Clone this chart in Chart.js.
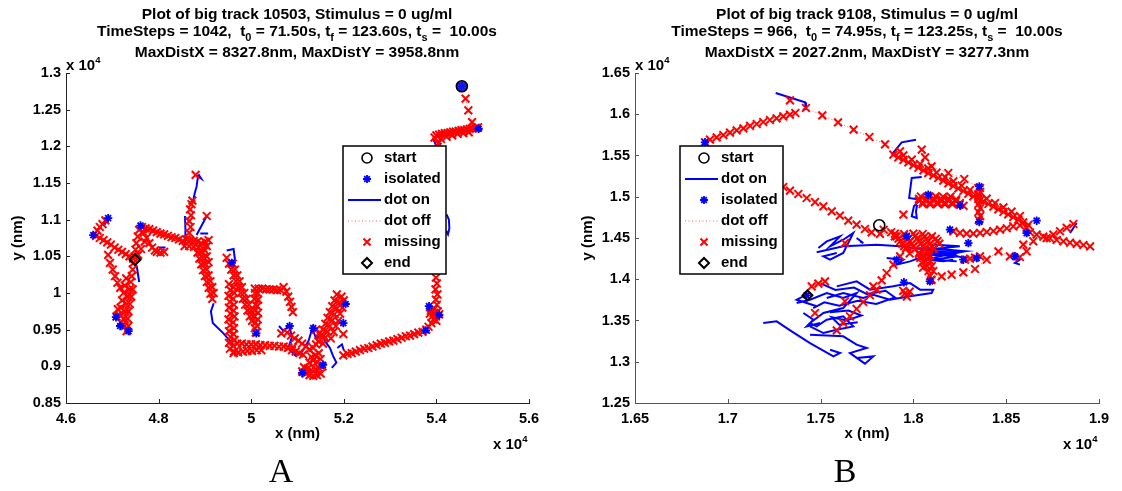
<!DOCTYPE html>
<html>
<head>
<meta charset="utf-8">
<title>Big track plots</title>
<script src="https://cdn.jsdelivr.net/npm/chart.js@4.4.1/dist/chart.umd.min.js"></script>
<style>
  body {
    margin: 0;
    width: 1122px;
    height: 491px;
    position: relative;
    overflow: hidden;
    background: #fff;
    font-family: 'Liberation Sans', Arial, sans-serif;
  }
  .panel {
    position: absolute;
    top: 0;
    width: 561px;
    height: 491px;
  }
  .line {
    position: absolute;
    width: 600px;
    text-align: center;
    font-weight: bold;
    font-size: 15.5px;
    line-height: 18px;
    white-space: pre;
  }
  .line sub {
    font-size: 11px;
    vertical-align: -5px;
    line-height: 0;
  }
  .exp {
    position: absolute;
    font-weight: bold;
    font-size: 15px;
    line-height: 18px;
    white-space: pre;
  }
  .exp sup {
    font-size: 9.5px;
    vertical-align: 7px;
    line-height: 0;
  }
  .tag {
    position: absolute;
    width: 60px;
    text-align: center;
    font-family: 'Liberation Serif', 'DejaVu Serif', serif;
    font-size: 34px;
    line-height: 34px;
  }
</style>
</head>
<body>
<div class="panel" style="left: 0"><canvas id="chartA" width="561" height="491"></canvas></div>
<div class="panel" style="left: 561px"><canvas id="chartB" width="561" height="491"></canvas></div>

<div class="line" style="left: -3px; top: 5px">Plot of big track 10503, Stimulus = 0 ug/ml</div>
<div class="line" style="left: -3px; top: 22px">TimeSteps = 1042,  t<sub>0</sub> = 71.50s, t<sub>f</sub> = 123.60s, t<sub>s</sub> =  10.00s</div>
<div class="line" style="left: -3px; top: 43px">MaxDistX = 8327.8nm, MaxDistY = 3958.8nm</div>
<div class="exp" style="left: 66px; top: 56px">x 10<sup>4</sup></div>
<div class="exp" style="left: 493px; top: 435px">x 10<sup>4</sup></div>
<div class="tag" style="left: 251px; top: 454px">A</div>

<div class="line" style="left: 567px; top: 5px">Plot of big track 9108, Stimulus = 0 ug/ml</div>
<div class="line" style="left: 567px; top: 22px">TimeSteps = 966,  t<sub>0</sub> = 74.95s, t<sub>f</sub> = 123.25s, t<sub>s</sub> =  10.00s</div>
<div class="line" style="left: 567px; top: 43px">MaxDistX = 2027.2nm, MaxDistY = 3277.3nm</div>
<div class="exp" style="left: 635px; top: 56px">x 10<sup>4</sup></div>
<div class="exp" style="left: 1063px; top: 435px">x 10<sup>4</sup></div>
<div class="tag" style="left: 815px; top: 454px">B</div>

<script>
// positions are in units of 10^4 nm, null breaks a track segment
const xTicksA = [4.6, 4.8, 5, 5.2, 5.4, 5.6];
const yTicksA = [0.85, 0.9, 0.95, 1, 1.05, 1.1, 1.15, 1.2, 1.25, 1.3];
const xTicksB = [1.65, 1.7, 1.75, 1.8, 1.85, 1.9];
const yTicksB = [1.25, 1.3, 1.35, 1.4, 1.45, 1.5, 1.55, 1.6, 1.65];

const startA = [[5.455, 1.282]];
const endA = [[4.749, 1.0455]];
const isolatedA = [
  [5.455, 1.282], [5.491, 1.224], [5.384, 0.982], [5.406, 0.970], [5.377, 0.949],
  [5.204, 0.985], [5.199, 0.959], [5.110, 0.891], [5.155, 0.902], [5.134, 0.952],
  [5.083, 0.955], [5.011, 0.945], [4.958, 1.041], [4.691, 1.102], [4.659, 1.079],
  [4.761, 1.092], [4.708, 0.967], [4.735, 0.948], [4.717, 0.955],
];
const dotOnA = [
  [5.392, 1.212], [5.398, 1.203], [5.405, 1.198], [5.410, 1.205], null,
  [5.422, 1.107], [5.427, 1.100], [5.428, 1.088], [5.425, 1.080], [5.421, 1.085], null,
  [5.380, 0.978], [5.392, 0.972], [5.404, 0.968], [5.396, 0.962], null,
  [5.060, 0.955], [5.070, 0.948], [5.082, 0.956], [5.088, 0.940], [5.080, 0.925], [5.095, 0.915],
  [5.110, 0.920], [5.124, 0.935], [5.132, 0.952], [5.140, 0.938], [5.152, 0.944], [5.162, 0.932],
  [5.170, 0.925], [5.177, 0.914], [5.184, 0.905], [5.174, 0.898], null,
  [5.186, 0.925], [5.196, 0.930], [5.200, 0.922], null,
  [4.919, 0.986], [4.913, 0.975], [4.917, 0.959], [4.940, 0.945], [4.961, 0.930], null,
  [4.947, 1.058], [4.962, 1.060], [4.965, 1.045], [4.958, 1.040], null,
  [4.875, 1.127], [4.878, 1.136], [4.882, 1.145], [4.885, 1.159], [4.892, 1.156], [4.886, 1.162], null,
  [4.857, 1.105], [4.858, 1.085], [4.857, 1.064], null,
  [4.882, 1.079], [4.893, 1.092], [4.904, 1.105], null,
  [4.907, 1.081], [4.890, 1.081], null,
  [4.683, 1.093], [4.690, 1.100], null,
  [4.753, 1.036], [4.758, 1.015], null,
  [4.800, 1.062], [4.815, 1.062], null,
  [4.730, 0.962], [4.722, 0.955], [4.733, 0.950],
];
const missingA = [
  [5.463, 1.265], [5.469, 1.249], [5.477, 1.233], [5.486, 1.225],
  [5.490, 1.226], [5.484, 1.225], [5.478, 1.224], [5.472, 1.224], [5.466, 1.223], [5.460, 1.222],
  [5.454, 1.222], [5.448, 1.221], [5.442, 1.220], [5.436, 1.220], [5.430, 1.219], [5.424, 1.218],
  [5.418, 1.218], [5.412, 1.217], [5.406, 1.216], [5.400, 1.215], [5.396, 1.212], null,
  [5.470, 1.219], [5.458, 1.218], [5.446, 1.217], [5.434, 1.215], [5.422, 1.213], [5.410, 1.210],
  [5.404, 1.204], null,
  [5.399, 1.021], [5.401, 1.013], [5.398, 1.005], [5.402, 0.998], [5.399, 0.991], [5.401, 0.984],
  [5.395, 0.978], [5.388, 0.976], [5.396, 0.973], [5.403, 0.975], [5.392, 0.969], [5.399, 0.968],
  [5.406, 0.971], [5.386, 0.972], [5.394, 0.964], [5.400, 0.962], [5.389, 0.959], [5.383, 0.954],
  [5.378, 0.950], [5.370, 0.947], [5.361, 0.946], [5.352, 0.944], [5.343, 0.942], [5.334, 0.941],
  [5.325, 0.939], [5.316, 0.937], [5.307, 0.935], [5.298, 0.934], [5.289, 0.932], [5.280, 0.931],
  [5.271, 0.929], [5.262, 0.927], [5.253, 0.925], [5.244, 0.924], [5.235, 0.922], [5.226, 0.920],
  [5.217, 0.918], [5.208, 0.917], [5.199, 0.915], null,
  [5.185, 0.998], [5.180, 0.990], [5.175, 0.982], [5.170, 0.974], [5.165, 0.966], [5.160, 0.958],
  [5.155, 0.950], [5.150, 0.942], [5.145, 0.934], null,
  [5.195, 0.995], [5.190, 0.987], [5.185, 0.979], [5.180, 0.971], [5.175, 0.963], [5.170, 0.955],
  [5.165, 0.947], [5.160, 0.939], [5.155, 0.931], null,
  [5.200, 0.990], [5.197, 0.980], [5.192, 0.972], [5.188, 0.962], [5.183, 0.955], [5.178, 0.947],
  [5.172, 0.938], [5.199, 0.944], null,
  [5.110, 0.893], [5.118, 0.890], [5.126, 0.888], [5.134, 0.887], [5.142, 0.888], [5.150, 0.890],
  [5.154, 0.900], [5.146, 0.898], [5.138, 0.896], [5.130, 0.895], [5.122, 0.897], [5.114, 0.899],
  [5.126, 0.905], [5.134, 0.908], [5.142, 0.906], [5.150, 0.910], [5.146, 0.918], [5.138, 0.915],
  [5.130, 0.913], null,
  [5.065, 0.945], [5.078, 0.946], [5.086, 0.942], [5.094, 0.938], [5.102, 0.935], [5.110, 0.931],
  [5.118, 0.927], [5.126, 0.923], [5.134, 0.925], [5.140, 0.930], null,
  [5.080, 0.925], [5.088, 0.922], [5.096, 0.920], [5.104, 0.918], [5.112, 0.916], null,
  [5.140, 0.950], [5.148, 0.946], [5.156, 0.942], null,
  [5.090, 0.926], [5.080, 0.926], [5.070, 0.927], [5.060, 0.927], [5.050, 0.928], [5.040, 0.928],
  [5.030, 0.929], [5.020, 0.929], [5.010, 0.930], [5.000, 0.930], [4.990, 0.930], [4.980, 0.931],
  [4.970, 0.931], null,
  [5.022, 0.922], [5.012, 0.922], [5.002, 0.921], [4.992, 0.921], [4.982, 0.920], [4.972, 0.919],
  [4.962, 0.918], null,
  [4.952, 1.012], [4.955, 1.004], [4.951, 0.996], [4.954, 0.988], [4.952, 0.980], [4.955, 0.972],
  [4.951, 0.964], [4.954, 0.956], [4.952, 0.948], [4.955, 0.940], [4.952, 0.932], [4.954, 0.924], null,
  [4.962, 1.008], [4.964, 1.000], [4.961, 0.992], [4.963, 0.984], [4.962, 0.976], [4.964, 0.968],
  [4.961, 0.960], [4.963, 0.952], [4.962, 0.944], [4.964, 0.936], [4.961, 0.928], [4.963, 0.920], null,
  [5.008, 1.006], [5.016, 1.006], [5.024, 1.006], [5.032, 1.005], [5.040, 1.005], [5.048, 1.005],
  [5.056, 1.004], [5.064, 1.004], [5.070, 1.008], [5.076, 1.002], [5.080, 0.995], [5.084, 0.988],
  [5.087, 0.981], [5.090, 0.974], null,
  [5.008, 1.000], [5.007, 0.992], [5.009, 0.984], [5.008, 0.976], [5.007, 0.968], [5.009, 0.960],
  [5.008, 0.952], [5.010, 0.946], null,
  [5.014, 1.000], [5.015, 0.991], [5.013, 0.982], [5.015, 0.973], [5.014, 0.964], [5.013, 0.955], null,
  [4.947, 1.048], [4.952, 1.040], [4.957, 1.032], [4.962, 1.024], [4.967, 1.016], [4.972, 1.008],
  [4.977, 1.000], [4.982, 0.992], [4.987, 0.984], [4.992, 0.976], [4.997, 0.968], [5.002, 0.962], null,
  [4.960, 1.040], [4.965, 1.032], [4.970, 1.024], [4.975, 1.016], [4.980, 1.008], [4.985, 1.000],
  [4.990, 0.992], [4.995, 0.984], [5.000, 0.976], [5.005, 0.968], null,
  [4.852, 1.071], [4.860, 1.073], [4.868, 1.072], [4.876, 1.071], [4.884, 1.070], [4.892, 1.068],
  [4.900, 1.070], [4.908, 1.072], null,
  [4.856, 1.064], [4.866, 1.064], [4.876, 1.063], [4.886, 1.062], [4.896, 1.061], [4.904, 1.064], null,
  [4.884, 1.055], [4.888, 1.047], [4.892, 1.039], [4.896, 1.031], [4.900, 1.023], [4.904, 1.015],
  [4.908, 1.007], [4.912, 0.999], [4.916, 0.992], null,
  [4.892, 1.056], [4.896, 1.048], [4.900, 1.040], [4.904, 1.032], [4.908, 1.024], [4.912, 1.016],
  [4.916, 1.008], [4.919, 1.000], null,
  [4.900, 1.058], [4.904, 1.050], [4.908, 1.042], null,
  [4.866, 1.082], [4.869, 1.090], [4.866, 1.098], [4.870, 1.106], [4.868, 1.114], [4.871, 1.121],
  [4.873, 1.126], null,
  [4.880, 1.161], null, [4.904, 1.105], null,
  [4.844, 1.073], [4.836, 1.075], [4.828, 1.076], [4.820, 1.078], [4.812, 1.080], [4.804, 1.081],
  [4.796, 1.083], [4.788, 1.085], [4.780, 1.087], [4.772, 1.088], [4.764, 1.090], null,
  [4.796, 1.056], [4.804, 1.055], [4.812, 1.056], null,
  [4.665, 1.078], [4.673, 1.075], [4.681, 1.072], [4.689, 1.069], [4.697, 1.066], [4.705, 1.062],
  [4.713, 1.059], [4.721, 1.056], [4.729, 1.053], [4.737, 1.050], [4.745, 1.047], null,
  [4.685, 1.099], [4.679, 1.094], [4.673, 1.090], [4.668, 1.085], null,
  [4.691, 1.052], [4.695, 1.041], [4.701, 1.032], [4.706, 1.023], [4.711, 1.014], [4.717, 1.007], null,
  [4.758, 1.086], [4.755, 1.077], [4.752, 1.068], [4.750, 1.059], [4.748, 1.050], [4.746, 1.041],
  [4.744, 1.032], [4.742, 1.023], null,
  [4.730, 1.020], [4.727, 1.010], [4.724, 1.000], [4.721, 0.990], [4.718, 0.980], [4.715, 0.970],
  [4.718, 0.960], null,
  [4.740, 1.015], [4.737, 1.005], [4.734, 0.995], [4.731, 0.985], [4.728, 0.975], [4.725, 0.965],
  [4.727, 0.955], [4.731, 0.948], null,
  [4.744, 1.005], [4.741, 0.995], [4.738, 0.985], [4.735, 0.975], [4.733, 0.965], [4.735, 0.955], null,
  [4.712, 0.978], [4.709, 0.968], null,
  [4.768, 1.082], [4.774, 1.075], [4.780, 1.068], [4.786, 1.062], [4.792, 1.058], null,
  [4.770, 1.070], [4.762, 1.060], [4.756, 1.052],
];

const startB = [[1.7816, 1.4654]];
const endB = [[1.7429, 1.3805]];
const isolatedB = [
  [1.6877, 1.5660], [1.8355, 1.5126], [1.8355, 1.4694], [1.8664, 1.4710], [1.8197, 1.4601],
  [1.8296, 1.4439], [1.8080, 1.5025], [1.8251, 1.4896], [1.7949, 1.3963], [1.8089, 1.3975],
  [1.8547, 1.4278], [1.8341, 1.4258], [1.8269, 1.4237], [1.7910, 1.4237], [1.7425, 1.3805],
  [1.7964, 1.4520], [1.8610, 1.4560],
];
const dotOnB = [
  [1.7258, 1.6258], [1.7416, 1.6145], [1.7421, 1.6064], [1.7403, 1.6056], null,
  [1.7883, 1.5510], [1.7937, 1.5660], [1.8014, 1.5692], null,
  [1.8045, 1.5240], [1.7991, 1.5228], [1.7977, 1.4985], [1.8036, 1.4965], [1.8003, 1.4884],
  [1.7991, 1.4763], [1.8018, 1.4743], [1.8014, 1.4823], [1.8020, 1.4900], null,
  [1.7479, 1.4327], [1.7622, 1.4399], [1.7802, 1.4419], [1.7928, 1.4399], [1.8071, 1.4358],
  [1.8233, 1.4298], null,
  [1.7488, 1.4379], [1.7533, 1.4459], [1.7605, 1.4520], [1.7551, 1.4399], [1.7622, 1.4479],
  [1.7676, 1.4560], [1.7622, 1.4318], [1.7551, 1.4237], [1.7515, 1.4278], [1.7587, 1.4318], null,
  [1.7694, 1.4500], [1.7730, 1.4439], [1.7712, 1.4459], null,
  [1.7856, 1.4257], [1.7946, 1.4237], [1.7910, 1.4177], [1.7982, 1.4217], [1.8125, 1.4338],
  [1.8233, 1.4318], [1.8143, 1.4278], [1.8071, 1.4237], [1.8161, 1.4217], [1.8215, 1.4237], null,
  [1.8071, 1.4379], [1.8251, 1.4338], [1.8089, 1.4298], [1.8242, 1.4278], [1.8107, 1.4237],
  [1.8233, 1.4217], null,
  [1.8100, 1.4420], [1.8250, 1.4400], [1.8120, 1.4370], [1.8280, 1.4340], [1.8150, 1.4300],
  [1.8290, 1.4260], null,
  [1.7191, 1.3470], [1.7263, 1.3490], [1.7344, 1.3369], [1.7443, 1.3227], [1.7569, 1.3065],
  [1.7605, 1.3106], [1.7551, 1.3146], null,
  [1.7443, 1.3328], [1.7622, 1.3308], [1.7694, 1.3207], [1.7748, 1.3167], [1.7658, 1.3106],
  [1.7739, 1.2977], [1.7784, 1.3065], [1.7694, 1.3045], null,
  [1.7371, 1.3712], [1.7443, 1.3752], [1.7533, 1.3833], [1.7622, 1.3773], [1.7694, 1.3833],
  [1.7622, 1.3651], [1.7515, 1.3591], [1.7443, 1.3469], [1.7479, 1.3429], [1.7533, 1.3510],
  [1.7622, 1.3550], [1.7676, 1.3429], [1.7587, 1.3389], [1.7515, 1.3348], [1.7443, 1.3429], null,
  [1.7587, 1.3914], [1.7694, 1.3975], [1.7766, 1.3874], [1.7892, 1.3914], [1.7982, 1.3954],
  [1.8036, 1.3874], [1.8107, 1.3874], [1.8098, 1.3833], [1.7982, 1.3793], [1.7874, 1.3752],
  [1.7784, 1.3812], [1.7730, 1.3772], [1.7622, 1.3833], [1.7533, 1.3772], null,
  [1.7500, 1.3950], [1.7580, 1.3870], [1.7680, 1.3900], [1.7750, 1.3820], [1.7850, 1.3860],
  [1.7900, 1.3780], [1.7800, 1.3700], [1.7700, 1.3740], [1.7600, 1.3680], [1.7520, 1.3720],
  [1.7460, 1.3650], null,
  [1.7550, 1.3600], [1.7650, 1.3620], [1.7720, 1.3560], [1.7640, 1.3500], [1.7560, 1.3540],
  [1.7600, 1.3450], [1.7700, 1.3480], null,
  [1.7425, 1.3813], [1.7371, 1.3752], [1.7479, 1.3672], null,
  [1.7407, 1.3591], [1.7461, 1.3510], [1.7425, 1.3429], [1.7497, 1.3470], null,
  [1.8844, 1.4561], [1.8880, 1.4682], null,
  [1.8538, 1.4278], [1.8574, 1.4237], [1.8547, 1.4197], [1.8574, 1.4177],
];
const missingB = [
  [1.6904, 1.5692], [1.6940, 1.5720], [1.6976, 1.5748], [1.7012, 1.5777], [1.7048, 1.5805],
  [1.7084, 1.5829], [1.7120, 1.5858], [1.7156, 1.5882], [1.7191, 1.5906], [1.7227, 1.5930],
  [1.7263, 1.5951], [1.7299, 1.5975], [1.7335, 1.5995], [1.7364, 1.6015], null,
  [1.7335, 1.6169], null,
  [1.7421, 1.6076], [1.7509, 1.5987], [1.7594, 1.5902], [1.7678, 1.5813], [1.7763, 1.5724],
  [1.7847, 1.5635], [1.7928, 1.5550], null,
  [1.7892, 1.5510], [1.7919, 1.5478], [1.7946, 1.5446], [1.7973, 1.5417], [1.8000, 1.5384],
  [1.8027, 1.5352], [1.8054, 1.5320], [1.8080, 1.5287], [1.8107, 1.5259], [1.8134, 1.5227],
  [1.8161, 1.5195], [1.8188, 1.5163], [1.8215, 1.5130], [1.8242, 1.5102], [1.8269, 1.5070],
  [1.8296, 1.5037], [1.8323, 1.5005], [1.8350, 1.4973], [1.8377, 1.4944], [1.8404, 1.4912],
  [1.8431, 1.4880], [1.8458, 1.4847], [1.8485, 1.4815], [1.8511, 1.4787], [1.8538, 1.4754],
  [1.8565, 1.4722], [1.8592, 1.4690], [1.8619, 1.4658], null,
  [1.7946, 1.5502], [1.7991, 1.5450], [1.8036, 1.5397], [1.8080, 1.5344], [1.8125, 1.5292],
  [1.8170, 1.5239], [1.8215, 1.5187], [1.8260, 1.5134], [1.8305, 1.5082], [1.8350, 1.5029],
  [1.8395, 1.4977], [1.8440, 1.4924], [1.8485, 1.4872], [1.8529, 1.4819], [1.8574, 1.4767], null,
  [1.8045, 1.5571], [1.8063, 1.5478], [1.8098, 1.5369], [1.8188, 1.5288], [1.8274, 1.5215],
  [1.8359, 1.5106], null,
  [1.8350, 1.5106], [1.8360, 1.5057], [1.8350, 1.5008], [1.8360, 1.4960], [1.8350, 1.4912],
  [1.8360, 1.4863], [1.8350, 1.4815], [1.8360, 1.4766], [1.8352, 1.4718], null,
  [1.8628, 1.4569], [1.8664, 1.4541], [1.8700, 1.4516], [1.8736, 1.4497], [1.8772, 1.4476],
  [1.8808, 1.4460], [1.8844, 1.4443], [1.8880, 1.4428], [1.8916, 1.4415], [1.8952, 1.4398], null,
  [1.8718, 1.4499], [1.8754, 1.4541], [1.8790, 1.4582], [1.8826, 1.4622], [1.8862, 1.4670], null,
  [1.8215, 1.4581], [1.8251, 1.4561], [1.8287, 1.4553], [1.8323, 1.4553], [1.8359, 1.4561],
  [1.8395, 1.4573], [1.8431, 1.4585], [1.8467, 1.4601], [1.8503, 1.4618], [1.8538, 1.4642],
  [1.8574, 1.4654], [1.8610, 1.4622], null,
  [1.8098, 1.3995], [1.8152, 1.4035], [1.8206, 1.4055], [1.8269, 1.4084], [1.8332, 1.4124],
  [1.8395, 1.4237], [1.8458, 1.4338], [1.8520, 1.4278], [1.8574, 1.4270], [1.8610, 1.4339],
  [1.8592, 1.4419], [1.8646, 1.4460], null,
  [1.8278, 1.4237], [1.8305, 1.4250], [1.8332, 1.4262], [1.8359, 1.4278], null,
  [1.8040, 1.5003], [1.8080, 1.4998], [1.8120, 1.5004], [1.8160, 1.4999], [1.8200, 1.5002], null,
  [1.8030, 1.4975], [1.8070, 1.4970], [1.8110, 1.4977], [1.8150, 1.4972], [1.8190, 1.4976],
  [1.8230, 1.4969], null,
  [1.8030, 1.4952], [1.8070, 1.4947], [1.8110, 1.4953], [1.8150, 1.4948], [1.8190, 1.4951],
  [1.8230, 1.4946], null,
  [1.8050, 1.4930], [1.8090, 1.4926], [1.8130, 1.4931], [1.8170, 1.4925], [1.8210, 1.4929],
  [1.8250, 1.4924], null,
  [1.8050, 1.4912], [1.8090, 1.4907], [1.8130, 1.4913], [1.8170, 1.4908], [1.8210, 1.4911],
  [1.8250, 1.4906], [1.8270, 1.4890], null,
  [1.7900, 1.4552], [1.7950, 1.4547], [1.8000, 1.4553], [1.8050, 1.4548], null,
  [1.7910, 1.4520], [1.7960, 1.4517], [1.8010, 1.4522], [1.8060, 1.4516], [1.8100, 1.4519], null,
  [1.7920, 1.4492], [1.7970, 1.4487], [1.8020, 1.4493], [1.8070, 1.4488], [1.8120, 1.4491], null,
  [1.7930, 1.4462], [1.7980, 1.4458], [1.8030, 1.4463], [1.8080, 1.4457], [1.8130, 1.4461], null,
  [1.7940, 1.4432], [1.7990, 1.4427], [1.8040, 1.4433], [1.8090, 1.4428], [1.8140, 1.4431], null,
  [1.7950, 1.4402], [1.8000, 1.4398], [1.8050, 1.4403], [1.8100, 1.4397], null,
  [1.7960, 1.4372], [1.8010, 1.4367], [1.8060, 1.4373], [1.8110, 1.4368], null,
  [1.7980, 1.4312], [1.8030, 1.4307], [1.8080, 1.4311], null,
  [1.8050, 1.4340], [1.8058, 1.4280], [1.8066, 1.4220], [1.8074, 1.4160], [1.8082, 1.4100],
  [1.8090, 1.4040], [1.8095, 1.3990], null,
  [1.8075, 1.4340], [1.8083, 1.4280], [1.8091, 1.4220], [1.8099, 1.4160], [1.8107, 1.4100], null,
  [1.8030, 1.4320], [1.8037, 1.4260], [1.8045, 1.4200], [1.8052, 1.4140], null,
  [1.7840, 1.4600], [1.7880, 1.4570], [1.7820, 1.4550], [1.7900, 1.4520], null,
  [1.7587, 1.3381], [1.7622, 1.3470], [1.7658, 1.3551], [1.7694, 1.3640], [1.7730, 1.3724],
  [1.7766, 1.3806], [1.7802, 1.3874], [1.7829, 1.3987], [1.7856, 1.4076], [1.7892, 1.4177],
  [1.7928, 1.4278], [1.7964, 1.4387], null,
  [1.7470, 1.3591], null, [1.7631, 1.3733], null, [1.7784, 1.3914], null,
  [1.7452, 1.3914], [1.7488, 1.3947], [1.7524, 1.3975], null,
  [1.7955, 1.3830], [1.7965, 1.3790], [1.7945, 1.3860], [1.7980, 1.3850], null,
  [1.7631, 1.4439], null, [1.7946, 1.4783], null,
  [1.6877, 1.5660], [1.7299, 1.5118], [1.7335, 1.5074], [1.7380, 1.5033], [1.7425, 1.4985],
  [1.7470, 1.4936], [1.7515, 1.4884], [1.7560, 1.4823], [1.7604, 1.4771], [1.7649, 1.4710],
  [1.7694, 1.4662], [1.7739, 1.4609], [1.7775, 1.4569],
];

const legendRowsA = ['start', 'isolated', 'dot on', 'dot off', 'missing', 'end'];
const legendRowsB = ['start', 'dot on', 'isolated', 'dot off', 'missing', 'end'];

const FONT = "'Liberation Sans', Arial, sans-serif";
Chart.defaults.font.family = FONT;
Chart.defaults.color = '#000';

function toPoints(arr) {
  return arr.map((p) => (p ? { x: p[0], y: p[1] } : { x: null, y: null }));
}

function fmt(v) {
  return String(+v.toFixed(2));
}

// marker shapes for the legend box, same geometry as chart.js point styles
function drawMarker(ctx, style, x, y, r) {
  ctx.beginPath();
  if (style === 'circle') {
    ctx.arc(x, y, r, 0, Math.PI * 2);
  } else if (style === 'rectRot') {
    ctx.moveTo(x - r, y);
    ctx.lineTo(x, y - r);
    ctx.lineTo(x + r, y);
    ctx.lineTo(x, y + r);
    ctx.closePath();
  } else {
    const d = r * Math.SQRT1_2;
    ctx.moveTo(x - d, y - d);
    ctx.lineTo(x + d, y + d);
    ctx.moveTo(x + d, y - d);
    ctx.lineTo(x - d, y + d);
    if (style === 'star') {
      ctx.moveTo(x - r, y);
      ctx.lineTo(x + r, y);
      ctx.moveTo(x, y - r);
      ctx.lineTo(x, y + r);
    }
  }
  ctx.stroke();
}

// short ticks pointing into the plot
const innerTicks = {
  id: 'innerTicks',
  beforeDatasetsDraw(chart, args, opts) {
    const { ctx, chartArea: area } = chart;
    const { x, y } = chart.scales;
    ctx.save();
    ctx.strokeStyle = opts.color;
    ctx.lineWidth = 1;
    ctx.beginPath();
    x.ticks.forEach((t) => {
      const px = Math.round(x.getPixelForValue(t.value)) + 0.5;
      ctx.moveTo(px, area.bottom);
      ctx.lineTo(px, area.bottom - opts.len);
    });
    y.ticks.forEach((t) => {
      const py = Math.round(y.getPixelForValue(t.value)) + 0.5;
      ctx.moveTo(area.left, py);
      ctx.lineTo(area.left + opts.len, py);
    });
    ctx.stroke();
    ctx.restore();
  },
};

// boxed legend sitting inside the axes
const boxLegend = {
  id: 'boxLegend',
  afterDraw(chart, args, opts) {
    const ctx = chart.ctx;
    const { left, top, width, height, rows } = opts;
    ctx.save();
    ctx.fillStyle = '#fff';
    ctx.fillRect(left, top, width, height);
    ctx.strokeStyle = '#000';
    ctx.lineWidth = 1.5;
    ctx.strokeRect(left, top, width, height);
    ctx.font = 'bold 15px ' + FONT;
    ctx.textBaseline = 'middle';
    ctx.textAlign = 'left';
    rows.forEach((label, i) => {
      const ds = chart.data.datasets.find((d) => d.label === label);
      const cy = top + 12 + i * 21;
      ctx.save();
      if (ds.pointRadius === 0) {
        ctx.strokeStyle = ds.borderColor;
        ctx.lineWidth = ds.borderWidth;
        ctx.setLineDash(ds.borderDash || []);
        ctx.beginPath();
        ctx.moveTo(left + 5, cy);
        ctx.lineTo(left + 38, cy);
        ctx.stroke();
      } else {
        ctx.strokeStyle = ds.pointBorderColor;
        ctx.lineWidth = ds.pointBorderWidth;
        drawMarker(ctx, ds.pointStyle, left + 24, cy, ds.pointStyle === 'star' ? 4 : 5);
      }
      ctx.restore();
      ctx.fillStyle = '#000';
      ctx.fillText(label, left + 41, cy);
    });
    ctx.restore();
  },
};

function makePanel(canvasId, o) {
  const tickFont = { size: 14.5, weight: 'bold' };
  const labelFont = { size: 15, weight: 'bold' };
  return new Chart(document.getElementById(canvasId), {
    type: 'scatter',
    data: {
      datasets: [
        {
          label: 'end',
          data: toPoints(o.end),
          pointStyle: 'rectRot',
          pointRadius: o.endSize,
          pointBorderColor: '#000',
          pointBackgroundColor: 'rgba(0,0,0,0)',
          pointBorderWidth: 2,
          order: 0,
        },
        {
          label: 'start',
          data: toPoints(o.start),
          pointStyle: 'circle',
          pointRadius: 5.5,
          pointBorderColor: '#000',
          pointBackgroundColor: o.startFill,
          pointBorderWidth: 1.6,
          order: 1,
        },
        {
          label: 'isolated',
          data: toPoints(o.isolated),
          pointStyle: 'star',
          pointRadius: 4.2,
          pointBorderColor: '#0000ff',
          pointBorderWidth: 1.8,
          order: 2,
        },
        {
          label: 'missing',
          data: toPoints(o.missing),
          pointStyle: 'crossRot',
          pointRadius: 5.5,
          pointBorderColor: '#ff0000',
          pointBorderWidth: 2,
          order: 3,
        },
        {
          label: 'dot off',
          data: toPoints(o.missing),
          showLine: true,
          pointRadius: 0,
          borderColor: 'rgba(255,40,40,0.75)',
          borderWidth: 1,
          borderDash: [1, 2.5],
          order: 4,
        },
        {
          label: 'dot on',
          data: toPoints(o.dotOn),
          showLine: true,
          pointRadius: 0,
          borderColor: '#0000ff',
          borderWidth: 2,
          order: 5,
        },
      ],
    },
    options: {
      responsive: false,
      animation: false,
      events: [],
      layout: { padding: { left: 0, right: o.padRight, top: 73, bottom: 0 } },
      plugins: {
        legend: { display: false },
        tooltip: { enabled: false },
        innerTicks: { color: o.axisColor, len: 4 },
        boxLegend: { left: o.legendLeft, top: 146, width: 103, height: 128, rows: o.rows },
      },
      scales: {
        x: {
          type: 'linear',
          min: o.xTicks[0],
          max: o.xTicks[o.xTicks.length - 1],
          afterBuildTicks: (s) => {
            s.ticks = o.xTicks.map((v) => ({ value: v }));
          },
          afterFit: (s) => {
            s.height = 88;
          },
          grid: { display: false, drawTicks: false },
          border: { display: true, color: o.axisColor, width: 1 },
          ticks: { padding: 7.5, font: tickFont, maxRotation: 0, autoSkip: false, callback: fmt },
          title: { display: true, text: 'x (nm)', font: labelFont, padding: { top: 0, bottom: 48 } },
        },
        y: {
          type: 'linear',
          min: o.yTicks[0],
          max: o.yTicks[o.yTicks.length - 1],
          afterBuildTicks: (s) => {
            s.ticks = o.yTicks.map((v) => ({ value: v }));
          },
          afterFit: (s) => {
            s.width = o.yWidth;
          },
          grid: { display: false, drawTicks: false },
          border: { display: true, color: o.axisColor, width: 1 },
          ticks: { padding: 5, font: tickFont, autoSkip: false, callback: fmt },
          title: { display: true, text: 'y (nm)', font: labelFont, padding: { top: o.yTitlePad, bottom: 0 } },
        },
      },
    },
    plugins: [innerTicks, boxLegend],
  });
}

makePanel('chartA', {
  start: startA,
  end: endA,
  isolated: isolatedA,
  dotOn: dotOnA,
  missing: missingA,
  xTicks: xTicksA,
  yTicks: yTicksA,
  rows: legendRowsA,
  startFill: 'rgba(20,20,235,0.9)',
  endSize: 5.5,
  axisColor: '#222',
  yWidth: 66,
  padRight: 32,
  yTitlePad: 9,
  legendLeft: 343,
});

makePanel('chartB', {
  start: startB,
  end: endB,
  isolated: isolatedB,
  dotOn: dotOnB,
  missing: missingB,
  xTicks: xTicksB,
  yTicks: yTicksB,
  rows: legendRowsB,
  startFill: 'rgba(0,0,0,0)',
  endSize: 5,
  axisColor: '#555',
  yWidth: 74,
  padRight: 23,
  yTitlePad: 18,
  legendLeft: 119,
});
</script>
</body>
</html>
